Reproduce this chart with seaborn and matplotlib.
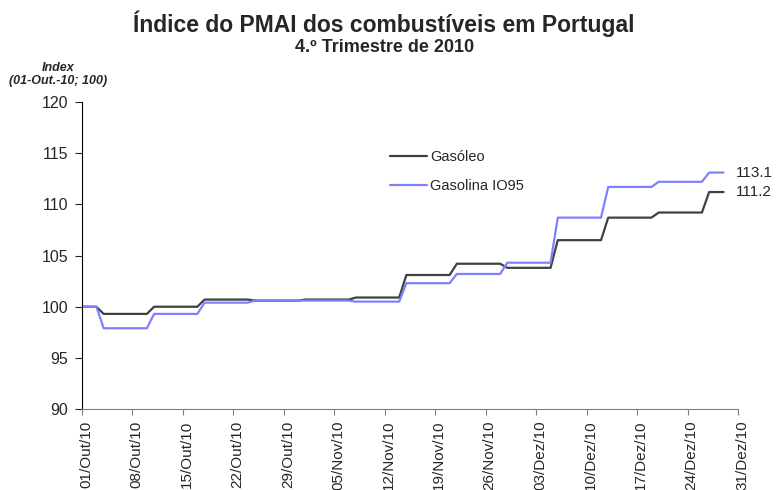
import matplotlib
matplotlib.use("Agg")
import matplotlib.pyplot as plt
import matplotlib.transforms as mtransforms
import numpy as np
import pandas as pd
import seaborn as sns

# Datas em que cada nível de preço entra em vigor (segundas-feiras)
inicio_niveis = ["2010-10-01", "2010-10-04", "2010-10-11", "2010-10-18", "2010-10-25",
                 "2010-11-01", "2010-11-08", "2010-11-15", "2010-11-22", "2010-11-29",
                 "2010-12-06", "2010-12-13", "2010-12-20", "2010-12-27"]
ultimo_dia = "2010-12-29"

gasoleo = [100.0, 99.3, 100.0, 100.7, 100.6, 100.7, 100.9,
           103.1, 104.2, 103.8, 106.5, 108.7, 109.2, 111.2]
gasolina = [100.0, 97.9, 99.3, 100.4, 100.6, 100.6, 100.5,
            102.3, 103.2, 104.3, 108.7, 111.7, 112.2, 113.1]

series = {"Gasóleo": gasoleo, "Gasolina IO95": gasolina}
cores = {"Gasóleo": "#404040", "Gasolina IO95": "#8080ff"}

tick_datas = pd.date_range("2010-10-01", "2010-12-31", freq="7D")
tick_labels = ["01/Out/10", "08/Out/10", "15/Out/10", "22/Out/10", "29/Out/10",
               "05/Nov/10", "12/Nov/10", "19/Nov/10", "26/Nov/10", "03/Dez/10",
               "10/Dez/10", "17/Dez/10", "24/Dez/10", "31/Dez/10"]


def vertices(niveis):
    """Cada nível vale do seu início até à véspera do nível seguinte."""
    inicios = pd.to_datetime(inicio_niveis)
    fins = list(inicios[1:] - pd.Timedelta(days=1)) + [pd.Timestamp(ultimo_dia)]
    linhas = []
    for ini, fim, v in zip(inicios, fins, niveis):
        linhas.append((ini, v))
        linhas.append((fim, v))
    return linhas


registos = []
for nome, niveis in series.items():
    for data, v in vertices(niveis):
        registos.append({"Data": data, "Indice": v, "Serie": nome})
df = pd.DataFrame(registos)

sns.set_style("ticks")
plt.rcParams["font.family"] = ["Liberation Sans", "DejaVu Sans"]

fig, ax = plt.subplots(figsize=(7.76, 4.9), dpi=100)
fig.subplots_adjust(left=0.1057, right=0.951, top=0.792, bottom=0.165)

sns.lineplot(data=df, x="Data", y="Indice", hue="Serie", palette=cores,
             linewidth=1.6, ax=ax, sort=False, estimator=None)

ax.set_xlim(pd.Timestamp("2010-10-01"), pd.Timestamp("2010-12-31"))
ax.set_ylim(90, 120)
ax.set_yticks(np.arange(90, 121, 5))
ax.tick_params(axis="y", labelsize=11.5, length=5, width=0.8, pad=5)
ax.set_xticks(tick_datas)
ax.set_xticklabels(tick_labels, rotation=90, fontsize=11)
ax.tick_params(axis="x", length=4, width=0.8, pad=4, color="#808080")
# rótulos ligeiramente à direita das marcas, como no original
desvio = mtransforms.ScaledTranslation(4 / 100, 0, fig.dpi_scale_trans)
for rot in ax.get_xticklabels():
    rot.set_transform(rot.get_transform() + desvio)
ax.set_xlabel("")
ax.set_ylabel("")
sns.despine(ax=ax)
ax.spines["left"].set_color("black")
ax.spines["bottom"].set_color("#808080")

# Valores finais
for nome, niveis in series.items():
    ax.annotate(f"{niveis[-1]:.1f}", xy=(pd.Timestamp(ultimo_dia), niveis[-1]),
                xytext=(9, 0), textcoords="offset points", va="center",
                ha="left", fontsize=11, annotation_clip=False)

leg = ax.legend(loc="upper left", bbox_to_anchor=(0.45, 0.885), frameon=False,
                fontsize=10.5, handlelength=2.5, labelspacing=1.0,
                handletextpad=0.25)
for linha in leg.get_lines():
    linha.set_linewidth(1.6)

fig.text(0.495, 0.951, "Índice do PMAI dos combustíveis em Portugal",
         ha="center", va="center", fontsize=16.5, fontweight="bold")
fig.text(0.495, 0.903, "4.º Trimestre de 2010", ha="center", va="center",
         fontsize=13, fontweight="bold")
fig.text(0.075, 0.848, "Index\n(01-Out.-10; 100)", ha="center", va="center",
         fontsize=9, fontweight="bold", style="italic", linespacing=1.15)

fig.savefig("out.png", dpi=100)
